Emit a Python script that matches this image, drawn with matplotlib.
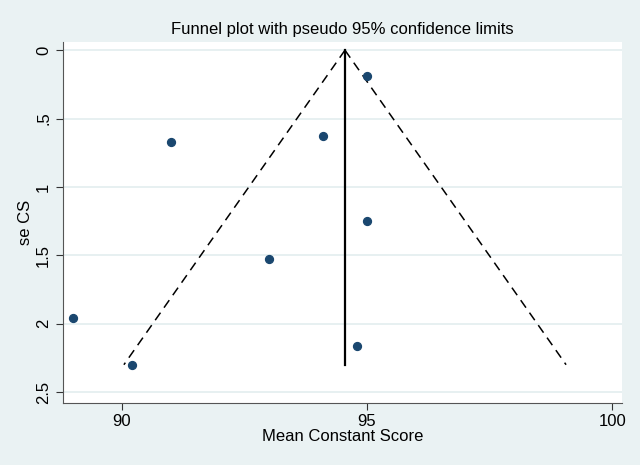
import matplotlib
matplotlib.use('Agg')
import matplotlib.pyplot as plt
import numpy as np

plt.rcParams['font.family'] = ['Liberation Sans', 'DejaVu Sans']

# study estimates
mean_cs = [95.0, 91.0, 94.1, 95.0, 93.0, 89.0, 90.2, 94.8]
se_cs = [0.19, 0.67, 0.63, 1.25, 1.53, 1.96, 2.30, 2.16]

pooled = 94.55     # summary estimate (vertical line)
se_max = 2.30      # funnel drawn down to this se
y_ticks = [0, 0.5, 1, 1.5, 2, 2.5]
y_ticklabels = ['0', '.5', '1', '1.5', '2', '2.5']
x_ticks = [90, 95, 100]

bg = '#EAF2F3'
navy = '#1A476F'

fig = plt.figure(figsize=(6.4, 4.65), dpi=100, facecolor=bg)
ax = fig.add_axes([0.0984, 0.1333, 0.8736, 0.7764])
ax.set_facecolor('white')

# pseudo 95% confidence limits
se_line = np.array([0, se_max])
ax.plot(pooled - 1.96 * se_line, se_line, color='black', lw=1.1, ls=(0, (6, 4)))
ax.plot(pooled + 1.96 * se_line, se_line, color='black', lw=1.1, ls=(0, (6, 4)))
ax.plot([pooled, pooled], [0, se_max], color='black', lw=1.6)

ax.scatter(mean_cs, se_cs, s=32, color=navy, zorder=3)

ax.set_xlim(88.8, 100.2)
ax.set_ylim(2.58, -0.06)
ax.set_xticks(x_ticks)
ax.set_yticks(y_ticks)
ax.set_yticklabels(y_ticklabels, rotation=90, va='center')
ax.grid(axis='y', color='#E3EDEF', lw=1.2)
ax.set_axisbelow(True)

for s in ['top', 'right']:
    ax.spines[s].set_visible(False)
for s in ['left', 'bottom']:
    ax.spines[s].set_color('#555555')
ax.tick_params(colors='#333333', labelsize=12, length=5, labelcolor='black')
ax.tick_params(axis='x', pad=3)

ax.set_xlabel('Mean Constant Score', fontsize=12, labelpad=0)
ax.set_ylabel('se CS', fontsize=12, labelpad=2)
ax.set_title('Funnel plot with pseudo 95% confidence limits', fontsize=12, pad=6)

fig.savefig('out.png', dpi=100, facecolor=bg)
